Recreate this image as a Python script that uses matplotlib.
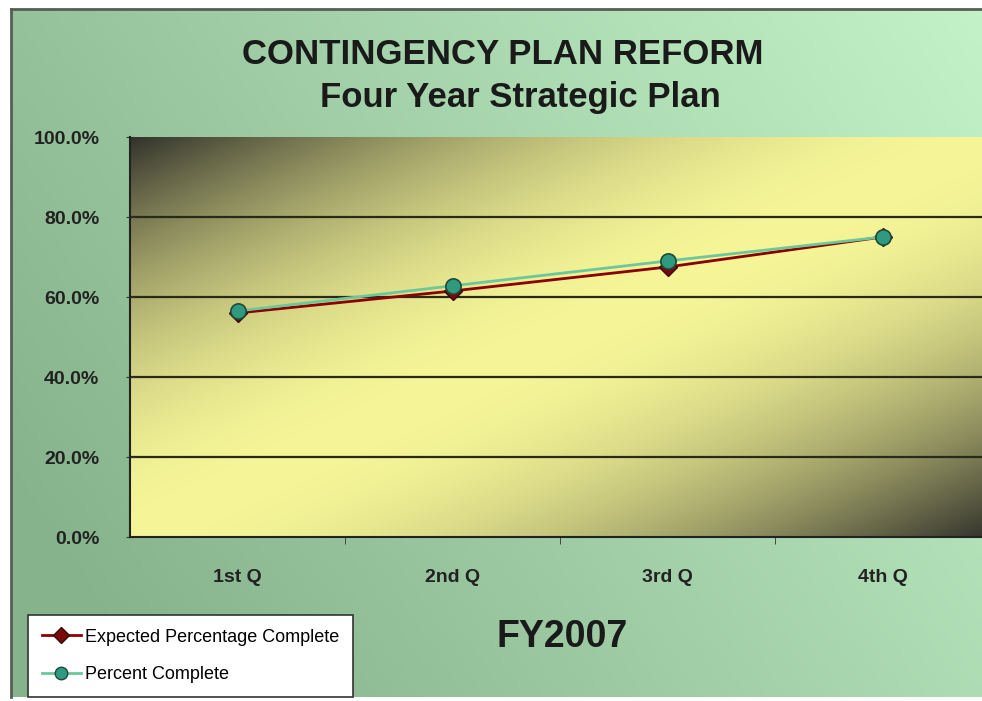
import numpy as np
import matplotlib
matplotlib.use("Agg")
import matplotlib.pyplot as plt
from matplotlib.lines import Line2D

plt.rcParams['font.family'] = ['Liberation Sans', 'DejaVu Sans']

quarters = ['1st Q', '2nd Q', '3rd Q', '4th Q']
expected = [56.0, 61.5, 67.5, 75.0]
percent_complete = [56.5, 62.8, 69.0, 75.0]
y_ticks = [0, 20, 40, 60, 80, 100]
y_labels = ['0.0%', '20.0%', '40.0%', '60.0%', '80.0%', '100.0%']

W, H = 982, 701
fig = plt.figure(figsize=(W / 100, H / 100), dpi=100, facecolor='white')

# outer chart area, green gradient
bg = fig.add_axes([11 / W, 4 / H, (W - 11) / W, (697 - 9) / H])
gx, gy = np.meshgrid(np.linspace(0, 1, 200), np.linspace(0, 1, 200))
t = np.clip(0.75 * gx + 0.35 * gy - 0.1, 0, 1)
dark_g = np.array([134, 178, 140]) / 255
light_g = np.array([195, 242, 200]) / 255
img = dark_g + (light_g - dark_g) * t[..., None]
bg.imshow(img, extent=[0, 1, 0, 1], origin='lower', aspect='auto')
bg.set_xlim(0, 1)
bg.set_ylim(0, 1)
bg.set_xticks([])
bg.set_yticks([])
for side, sp in bg.spines.items():
    sp.set_color('#555f55')
    sp.set_linewidth(2)
bg.spines['right'].set_visible(False)
bg.spines['bottom'].set_visible(False)

# plot area
ax = fig.add_axes([130 / W, (H - 537) / H, (990 - 130) / W, 400 / H])
ax.set_xlim(-0.5, 3.5)

px, py = np.meshgrid(np.linspace(0, 1, 300), np.linspace(0, 1, 300))
s = (px + (1 - py)) / 2
d = np.abs(s - 0.5) * 2
b = 1 - d ** 1.9
dark_y = np.array([50, 50, 44]) / 255
light_y = np.array([246, 246, 152]) / 255
pimg = dark_y + (light_y - dark_y) * b[..., None]
ax.imshow(pimg, extent=[-0.5, 3.5, 100, 0], aspect='auto', zorder=0)
ax.set_ylim(0, 100)

for yv in [20, 40, 60, 80]:
    ax.axhline(yv, color='#2a2a1a', lw=1.6, zorder=1)

ax.plot(range(4), expected, color='#8b0000', lw=2, marker='D', markersize=9,
        markerfacecolor='#7a0a0a', markeredgecolor='#3a0a0a', zorder=3,
        label='Expected Percentage Complete')
ax.plot(range(4), percent_complete, color='#6cc89a', lw=2, marker='o', markersize=11,
        markerfacecolor='#2f9a80', markeredgecolor='#1f4a3a', markeredgewidth=1.2,
        zorder=4, label='Percent Complete')

ax.set_yticks(y_ticks)
ax.set_yticklabels(y_labels, fontsize=14, fontweight='bold', color='#222222')
ax.set_xticks(range(4))
ax.set_xticklabels(quarters, fontsize=14, fontweight='bold', color='#222222')
ax.tick_params(axis='x', length=0, pad=23)
ax.set_xticks([0.5, 1.5, 2.5], minor=True)
ax.tick_params(axis='x', which='minor', length=5, direction='out', color='#333333')
ax.tick_params(axis='y', length=6, direction='inout', pad=19, color='#333333')
for side in ['top', 'right']:
    ax.spines[side].set_visible(False)
ax.spines['left'].set_color('#222222')
ax.spines['bottom'].set_color('#222222')
ax.spines['left'].set_linewidth(1.5)
ax.spines['bottom'].set_linewidth(1.5)

fig.text(503 / W, 1 - 55 / H, 'CONTINGENCY PLAN REFORM', ha='center', va='center',
         fontsize=25, fontweight='bold', color='#1a1a1a')
fig.text(520 / W, 1 - 98 / H, 'Four Year Strategic Plan', ha='center', va='center',
         fontsize=25, fontweight='bold', color='#1a1a1a')
fig.text(562 / W, 1 - 637 / H, 'FY2007', ha='center', va='center',
         fontsize=27, fontweight='bold', color='#1a1a1a')

handles = [
    Line2D([], [], color='#8b0000', lw=2, marker='D', markersize=8,
           markerfacecolor='#7a0a0a', markeredgecolor='#3a0a0a'),
    Line2D([], [], color='#6cc89a', lw=2, marker='o', markersize=9,
           markerfacecolor='#2f9a80', markeredgecolor='#1f4a3a'),
]
leg = fig.legend(handles, ['Expected Percentage Complete', 'Percent Complete'],
                 loc='lower left', bbox_to_anchor=(28 / W, 4 / H), fontsize=13,
                 frameon=True, fancybox=False, framealpha=1, handlelength=2.2,
                 handletextpad=0.2, borderpad=0.75, labelspacing=1.15,
                 borderaxespad=0)
leg.get_frame().set_edgecolor('#333333')
leg.get_frame().set_linewidth(1.2)
leg.get_frame().set_facecolor('white')

fig.savefig('out.png', dpi=100, facecolor='white')
